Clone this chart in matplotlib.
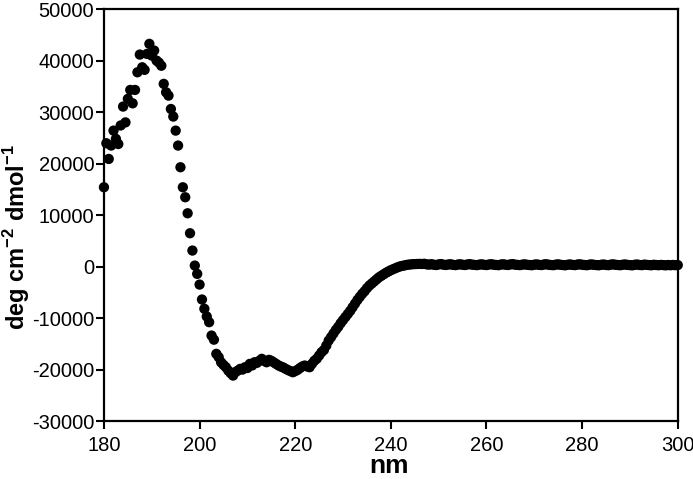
import numpy as np
import matplotlib.pyplot as plt

plt.rcParams['font.family'] = ['Liberation Sans', 'DejaVu Sans']
plt.rcParams['mathtext.fontset'] = 'custom'
plt.rcParams['mathtext.rm'] = 'Liberation Sans'
plt.rcParams['mathtext.bf'] = 'Liberation Sans:bold'

# wavelength (nm), 0.5 nm steps
nm = np.arange(180, 300.01, 0.5)

# mean residue ellipticity
vals_180_200 = [
    15400, 23950, 20900, 23500, 26400, 24800, 23800, 27400, 31070, 28000,
    32570, 34300, 31700, 34300, 37730, 41170, 38700, 38200, 41300, 43250,
    40970, 41950, 40000, 39600, 39000, 35480, 33850, 33200, 30600, 29130,
    26400, 23500, 19290, 15400, 13460, 10350, 6470, 3110, 190, -1420,
]
vals_200_225 = [
    -3500, -6400, -8200, -9700, -10800, -13400, -14200, -16950, -17600, -18600,
    -19100, -19550, -20200, -20700, -21170, -20500, -20200, -19870, -20000, -19550,
    -19700, -18900, -19200, -18580, -18700, -18300, -17920, -18300, -18580, -18120,
    -18300, -18600, -18900, -19200, -19420, -19600, -19870, -20100, -20300, -20520,
    -20300, -20060, -19700, -19400, -19220, -19400, -19550, -18900, -18300, -17900,
]
vals_225_247 = [
    -17280, -16640, -16200, -15340, -14370, -13700, -13000, -12300, -11700, -11000,
    -10400, -9800, -9200, -8600, -7900, -7200, -6500, -5900, -5300, -4800,
    -4200, -3700, -3300, -2900, -2500, -2100, -1800, -1500, -1200, -950,
    -700, -500, -300, -100, 50, 150, 250, 350, 400, 450,
    480, 500, 520, 500,
]
vals_247_300 = [
    540, 420, 380, 460, 350, 300, 420, 480, 360, 310,
    400, 450, 330, 280, 390, 440, 350, 300, 410, 460,
    370, 320, 280, 380, 430, 340, 290, 400, 450, 360,
    310, 270, 390, 440, 350, 300, 420, 470, 360, 320,
    280, 380, 430, 340, 300, 260, 370, 420, 330, 290,
    400, 450, 350, 300, 270, 380, 430, 340, 290, 250,
    360, 410, 320, 280, 390, 440, 350, 300, 260, 370,
    420, 330, 290, 250, 350, 400, 310, 270, 380, 430,
    340, 300, 260, 360, 410, 320, 280, 240, 350, 400,
    310, 270, 380, 330, 290, 250, 350, 300, 260, 320,
    280, 240, 300, 260, 310, 270, 290,
]
mre = np.array(vals_180_200 + vals_200_225 + vals_225_247 + vals_247_300)
n = min(len(nm), len(mre))

xticks = [180, 200, 220, 240, 260, 280, 300]
yticks = [-30000, -20000, -10000, 0, 10000, 20000, 30000, 40000, 50000]

fig = plt.figure(figsize=(6.93, 4.79), dpi=100)
ax = fig.add_axes([0.150, 0.121, 0.828, 0.860])

ax.scatter(nm[:n], mre[:n], s=55, color='black', edgecolors='none', zorder=3,
           clip_on=False)

ax.set_xlim(180, 300)
ax.set_ylim(-30000, 50000)
ax.set_xticks(xticks)
ax.set_yticks(yticks)
ax.set_xticklabels([str(t) for t in xticks])
ax.set_yticklabels([str(t) for t in yticks])

for s in ax.spines.values():
    s.set_linewidth(1.6)
ax.tick_params(axis='both', direction='out', length=6, width=1.5, labelsize=14.5,
               top=False, right=False)
ax.tick_params(axis='x', pad=5)
ax.tick_params(axis='y', pad=1)

ax.set_xlabel('nm', fontsize=19, fontweight='bold')
ax.xaxis.set_label_coords(0.497, -0.08)
ax.set_ylabel(r'deg cm$^{\mathbf{-2}}$ dmol$^{\mathbf{-1}}$', fontsize=17,
              fontweight='bold')
ax.yaxis.set_label_coords(-0.126, 0.447)

fig.savefig('out.png', dpi=100)
